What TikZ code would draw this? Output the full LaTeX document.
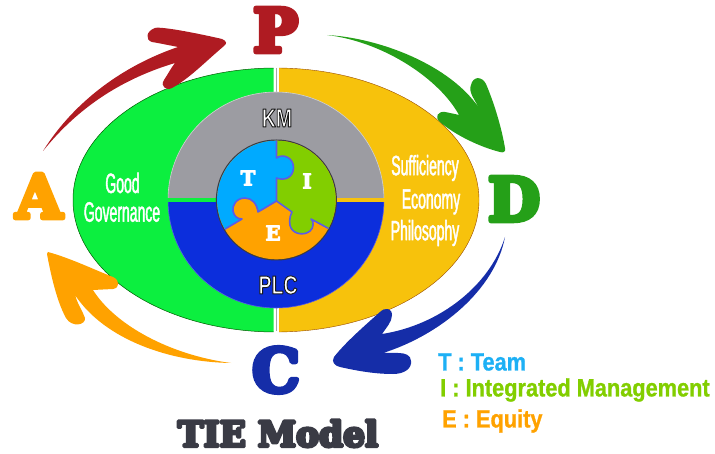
\documentclass[tikz,border=0pt]{standalone}
\font\slabbig="DejaVu Serif/B:embolden=8" at 60pt
\font\slabpiece="DejaVu Serif/B:embolden=5" at 20pt
\font\slabtitle="DejaVu Serif/B:embolden=9;extend=0.985" at 35pt
\font\narrowF="Liberation Sans:extend=0.5;embolden=1.5" at 28pt
\font\outlineF="Liberation Sans/B:extend=0.75;embolden=3.5" at 26pt
\font\legendF="Liberation Sans/B:extend=0.87;embolden=1" at 25pt
\definecolor{cgreen}{HTML}{0CEF3F}
\definecolor{cyellow}{HTML}{F7C20C}
\definecolor{cgray}{HTML}{9C9CA2}
\definecolor{cblue}{HTML}{0C2EDC}
\definecolor{cred}{HTML}{AF1B22}
\definecolor{cdgreen}{HTML}{25A018}
\definecolor{cnavy}{HTML}{152DA8}
\definecolor{corange}{HTML}{FFA200}
\definecolor{csky}{HTML}{00AAFF}
\definecolor{clime}{HTML}{82CE00}
\definecolor{cedge}{HTML}{5C5CE6}
\definecolor{cdark}{HTML}{3A3B45}
\definecolor{clegT}{HTML}{1DB0F5}
\newcommand{\outl}[1]{\special{pdf:bcolor [1 1 1] [0.1 0.1 0.1]}#1\special{pdf:ecolor}}
\tikzset{
  bigletter/.style={font=\slabbig,inner sep=0pt},
  narrowtext/.style={font=\narrowF,text=white,inner sep=0pt},
  ringtext/.style={font=\outlineF,inner sep=0pt},
  piecetext/.style={font=\slabpiece,text=white,inner sep=0pt},
  legendtext/.style={font=\legendF,inner sep=0pt,anchor=west},
  titletext/.style={font=\slabtitle,inner sep=0pt,text=cdark},
  seam/.style={draw=cedge,line width=1.6pt,line join=round}
}
\begin{document}
\begin{tikzpicture}[x=1pt,y=-1pt,line join=round]
\useasboundingbox (0,0) rectangle (715,454);
% outer halves
\draw[gray!70,line width=.8pt] (276,68) -- (276,331);
\begin{scope}
  \clip (60,50) rectangle (273.5,350);
  \fill[cgreen] (276,200) ellipse [x radius=203pt,y radius=132pt];
  \draw[green!35!black,line width=.5pt] (276,200) ellipse [x radius=203pt,y radius=132pt];
\end{scope}
\begin{scope}
  \clip (279,50) rectangle (500,350);
  \fill[cyellow] (276,200) ellipse [x radius=203pt,y radius=132pt];
  \draw[orange!60!black,line width=.4pt] (276,200) ellipse [x radius=203pt,y radius=132pt];
\end{scope}
% rings
\begin{scope}
  \clip (100,60) rectangle (450,197.5);
  \fill[cgray] (276,200) circle [radius=108pt];
  \draw[gray!35,line width=.6pt] (276,200) circle [radius=108pt];
\end{scope}
\begin{scope}
  \clip (100,202.5) rectangle (450,340);
  \fill[cblue] (276,200) circle [radius=108pt];
  \draw[cedge,line width=.6pt] (276,200) circle [radius=108pt];
\end{scope}
% puzzle
\fill[cdark] (276.4,200) circle [radius=60.5pt];
\begin{scope}
  \clip (276.4,200) circle [radius=59.3pt];
  \fill[corange] (200,130) rectangle (350,270);
  \fill[clime] (276.5,201) -- (276.5,130) -- (350,130) -- (350,240) -- (335,232) -- (311,219) .. controls (314,221) and (314,228) .. (310,231) .. controls (304,236) and (294,234) .. (291,228) .. controls (289,225) and (289,217) .. (292,212) -- cycle;
  \fill[csky] (276.5,201) -- (276.5,178) .. controls (284,181) and (293,178) .. (293.5,168) .. controls (294,158) and (283,153) .. (276.5,158) -- (276.5,130) -- (200,130) -- (200,240) -- (220,232) -- (242,219) .. controls (237,219) and (234,216) .. (233,211) .. controls (232,206) and (236,198) .. (245,198) .. controls (252,198) and (257,204) .. (258,212) -- cycle;
  \draw[seam] (276.5,135) -- (276.5,158) .. controls (283,153) and (294,158) .. (293.5,168) .. controls (293,178) and (284,181) .. (276.5,178) -- (276.5,201);
  \draw[seam] (276.5,201) -- (258,212) .. controls (257,204) and (252,198) .. (245,198) .. controls (236,198) and (232,206) .. (233,211) .. controls (234,216) and (237,219) .. (242,219) -- (220,232);
  \draw[seam] (276.5,201) -- (292,212) .. controls (289,217) and (289,225) .. (291,228) .. controls (294,234) and (304,236) .. (310,231) .. controls (314,228) and (314,221) .. (311,219) -- (335,232);
\end{scope}
% cycle arrows
\fill[cred] (43,151) .. controls (75,100) and (125,65) .. (178,47) .. controls (168,45) and (158,43) .. (152,42) .. controls (145,40) and (146,31) .. (155,28) .. controls (162,26) and (205,35) .. (222,39) .. controls (227,41) and (227,44) .. (224,46) .. controls (205,62) and (190,78) .. (172,88) .. controls (166,91) and (160,86) .. (164,80) .. controls (168,74) and (171,68) .. (175,63) .. controls (125,78) and (80,105) .. (43,151) -- cycle;
\fill[cdgreen] (327,35) .. controls (380,38) and (450,65) .. (479,108) .. controls (475,100) and (468,92) .. (471,85) .. controls (473,76) and (482,76) .. (486,84) .. controls (495,105) and (502,130) .. (505,148) .. controls (506,152) and (503,153) .. (500,152) .. controls (480,147) and (455,135) .. (440,122) .. controls (434,117) and (438,111) .. (445,112) .. controls (450,113) and (455,114) .. (459,115) .. controls (440,80) and (385,42) .. (327,35) -- cycle;
\fill[cnavy] (505,237) .. controls (490,285) and (440,325) .. (382,334) .. controls (386,328) and (392,322) .. (392,315) .. controls (392,308) and (385,307) .. (380,312) .. controls (362,328) and (345,343) .. (334,357) .. controls (331,362) and (335,366) .. (340,367) .. controls (358,371) and (375,374) .. (393,374) .. controls (405,374) and (412,368) .. (411,361) .. controls (411,355) and (405,353) .. (398,353) -- (383,353) .. controls (440,335) and (495,290) .. (505,237) -- cycle;
\fill[corange] (48,252) .. controls (70,258) and (95,270) .. (113,277) .. controls (120,280) and (120,288) .. (113,289) -- (93,290) .. controls (115,325) and (170,355) .. (231,363) .. controls (170,362) and (105,340) .. (75,295) .. controls (78,305) and (83,312) .. (85,318) .. controls (86,325) and (72,328) .. (66,318) .. controls (56,300) and (50,270) .. (47,254) -- cycle;
% letters
\node[bigletter,text=cred] (P) at (275.5,30) {P};
\node[bigletter,text=cdgreen] (D) at (514,199) {D};
\node[bigletter,text=cnavy] (C) at (276,370) {C};
\node[bigletter,text=corange] (A) at (39,196) {A};
% labels
\node[narrowtext] (good) at (122.5,183) {Good};
\node[narrowtext] (gov) at (122,212) {Governance};
\node[narrowtext] (suff) at (425,168) {Sufficiency};
\node[narrowtext] (econ) at (431,202) {Economy};
\node[narrowtext] (phil) at (425,233) {Philosophy};
\node[ringtext] (km) at (277,118) {\outl{KM}};
\node[ringtext] (plc) at (278,285) {\outl{PLC}};
\node[piecetext] (t) at (248,178) {T};
\node[piecetext] (i) at (307,181) {I};
\node[piecetext] (e) at (273,233) {E};
% legend
\node[legendtext,text=clegT] (lt) at (438,362) {T : Team};
\node[legendtext,text=clime] (li) at (440,390) {I : Integrated Management};
\node[legendtext,text=corange] (le) at (442,421) {E : Equity};
\node[titletext] (title) at (278,433.5) {TIE Model};
\end{tikzpicture}
\end{document}
